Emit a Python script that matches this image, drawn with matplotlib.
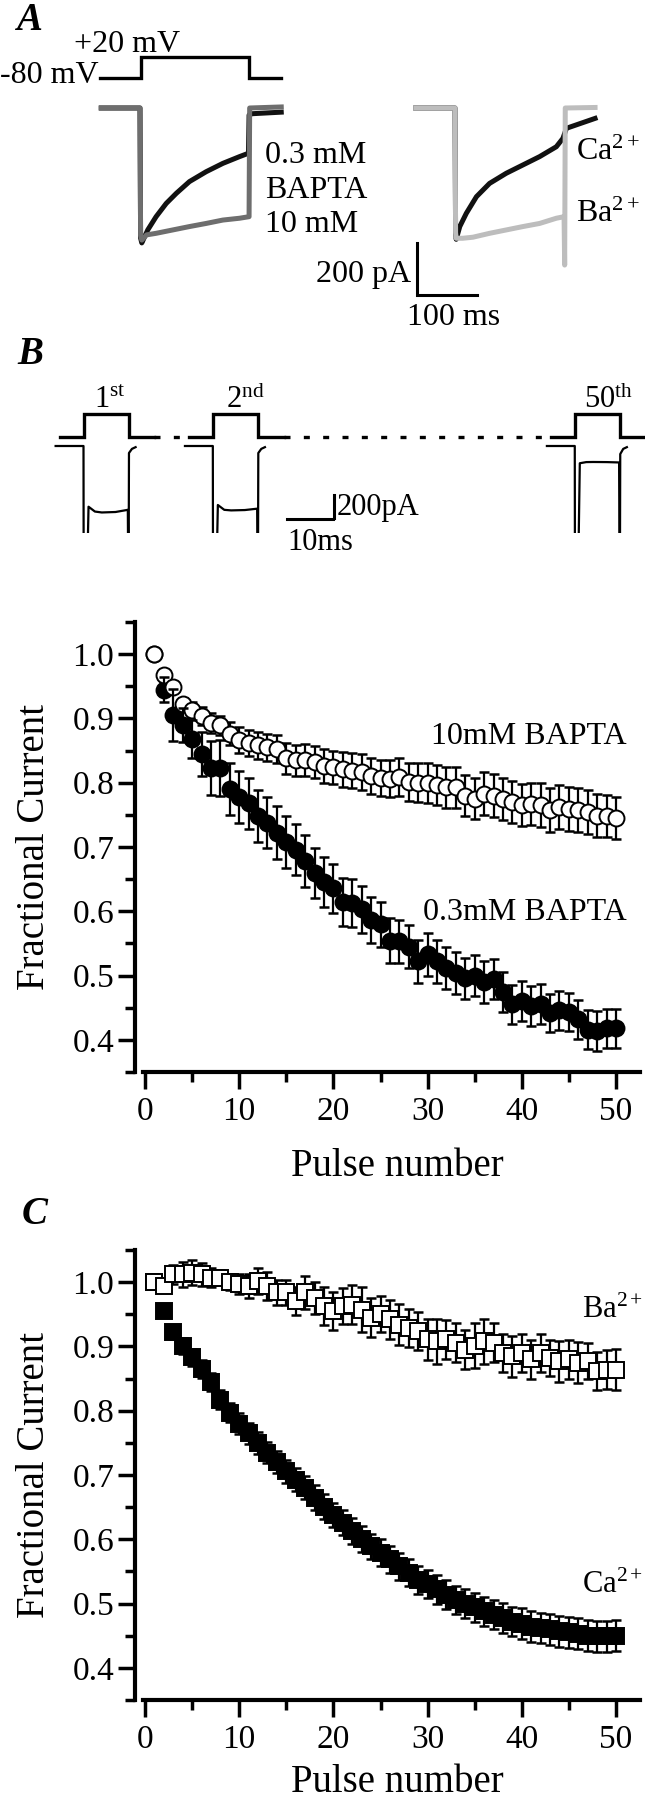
import numpy as np
import matplotlib
matplotlib.use('Agg')
import matplotlib.pyplot as plt
from matplotlib.ticker import FixedLocator, FormatStrFormatter

plt.rcParams['font.family'] = ['Liberation Serif', 'DejaVu Serif']
plt.rcParams['mathtext.fontset'] = 'custom'
plt.rcParams['mathtext.rm'] = 'Liberation Serif'
plt.rcParams['mathtext.it'] = 'Liberation Serif:italic'
plt.rcParams['mathtext.bf'] = 'Liberation Serif:bold'

# ---------------- data ----------------
# Panel A: voltage protocol (ms, mV)
stepA_t = [-67, 2, 2, 183, 183, 237]
stepA_v = [-80, -80, 20, 20, -80, -80]
# Panel A left: currents (ms, pA)
trace03_t = [-65, 0, 1, 3, 13, 27, 44, 61, 83, 111, 139, 167, 182, 183, 188, 237]
trace03_i = [0, 0, -500, -519, -469, -418, -367, -328, -283, -245, -213, -187, -174, -27, -22, -16]
trace10_t = [-65, 0, 1, 3, 11, 27, 55, 83, 111, 139, 167, 183, 184, 237]
trace10_i = [0, 0, -490, -508, -488, -482, -469, -456, -444, -431, -424, -418, 0, 4]
# Panel A right: Ca2+ / Ba2+ currents (ms, pA)
traceCa_t = [-66, 0, 1, 2, 8, 19, 36, 58, 86, 114, 142, 170, 181, 187, 235]
traceCa_i = [0, 0, -480, -505, -456, -405, -341, -290, -251, -219, -187, -149, -117, -78, -40]
traceBa_t = [-66, 0, 1, 2, 13, 30, 58, 86, 114, 142, 170, 183, 184, 185, 235]
traceBa_i = [0, 0, -480, -501, -501, -497, -482, -469, -456, -444, -424, -418, -604, 0, 2]
scalebarA_ms = 100
scalebarA_pA = 200

# Panel B sweeps (ms, mV / pA)
stepB_t = [-5.2, 0, 0, 9.9, 9.9, 15.5]
stepB_v = [-80, -80, 20, 20, -80, -80]
sweep_t = [-6.1, 0, 0.05, 0.6, 1.1, 2.5, 4.0, 7.0, 9.7, 9.85, 9.95, 10.6, 11.4]
sweep1_i = [0, 0, -1500, -1500, -528, -570, -578, -574, -555, -1500, -61, -25, -10]
sweep2_i = [0, 0, -1500, -1500, -513, -555, -560, -557, -545, -1500, -61, -25, -10]
sweep50_i = [0, 0, -1500, -1500, -150, -140, -139, -140, -143, -1500, -70, -25, -10]
sweep_labels = ['1$^{\\mathrm{st}}$', '2$^{\\mathrm{nd}}$', '50$^{\\mathrm{th}}$']
scalebarB_ms = 10
scalebarB_pA = 200

# Fractional current vs pulse number
pulse_n = list(range(1, 51))
bapta10_mean = [1.000, 0.967, 0.949, 0.922, 0.913, 0.904, 0.893, 0.889, 0.876, 0.866,
                0.862, 0.858, 0.855, 0.852, 0.838, 0.835, 0.835, 0.832, 0.826, 0.824,
                0.821, 0.819, 0.816, 0.811, 0.807, 0.806, 0.809, 0.801, 0.800, 0.800,
                0.796, 0.793, 0.793, 0.780, 0.775, 0.783, 0.780, 0.775, 0.770, 0.765,
                0.767, 0.765, 0.757, 0.762, 0.759, 0.757, 0.754, 0.749, 0.748, 0.745]
bapta10_sem = [0.000, 0.008, 0.006, 0.010, 0.012, 0.014, 0.015, 0.015, 0.018, 0.020,
               0.020, 0.021, 0.021, 0.022, 0.024, 0.024, 0.025, 0.025, 0.026, 0.026,
               0.027, 0.027, 0.028, 0.028, 0.028, 0.029, 0.030, 0.030, 0.030, 0.031,
               0.031, 0.032, 0.032, 0.032, 0.032, 0.033, 0.033, 0.033, 0.033, 0.033,
               0.033, 0.034, 0.034, 0.034, 0.034, 0.034, 0.034, 0.034, 0.033, 0.033]
bapta03_mean = [1.000, 0.945, 0.905, 0.890, 0.868, 0.845, 0.823, 0.823, 0.790, 0.778,
                0.768, 0.748, 0.738, 0.722, 0.708, 0.696, 0.678, 0.660, 0.645, 0.636,
                0.614, 0.613, 0.603, 0.586, 0.580, 0.554, 0.553, 0.545, 0.522, 0.533,
                0.522, 0.512, 0.504, 0.496, 0.500, 0.490, 0.495, 0.474, 0.455, 0.460,
                0.452, 0.456, 0.442, 0.446, 0.443, 0.432, 0.416, 0.414, 0.418, 0.418]
bapta03_sem = [0.000, 0.020, 0.040, 0.026, 0.030, 0.034, 0.042, 0.044, 0.040, 0.040,
               0.040, 0.040, 0.040, 0.041, 0.041, 0.040, 0.040, 0.039, 0.039, 0.038,
               0.037, 0.037, 0.036, 0.036, 0.035, 0.035, 0.034, 0.034, 0.034, 0.033,
               0.033, 0.033, 0.032, 0.032, 0.032, 0.032, 0.031, 0.031, 0.031, 0.031,
               0.031, 0.031, 0.030, 0.030, 0.030, 0.030, 0.031, 0.031, 0.030, 0.030]
ba_mean = [1.000, 0.994, 1.012, 1.012, 1.015, 1.012, 1.007, 1.007, 1.000, 0.997,
           0.994, 1.002, 0.994, 0.984, 0.984, 0.971, 0.984, 0.976, 0.963, 0.955,
           0.963, 0.965, 0.957, 0.945, 0.950, 0.942, 0.934, 0.929, 0.924, 0.911,
           0.908, 0.911, 0.906, 0.895, 0.901, 0.908, 0.906, 0.890, 0.885, 0.890,
           0.880, 0.890, 0.882, 0.877, 0.880, 0.875, 0.877, 0.862, 0.864, 0.864]
ba_sem = [0.000, 0.006, 0.015, 0.020, 0.020, 0.018, 0.015, 0.012, 0.012, 0.015,
          0.018, 0.020, 0.022, 0.020, 0.020, 0.022, 0.025, 0.025, 0.030, 0.030,
          0.028, 0.030, 0.035, 0.030, 0.028, 0.030, 0.032, 0.030, 0.030, 0.032,
          0.035, 0.030, 0.030, 0.030, 0.035, 0.035, 0.030, 0.030, 0.032, 0.030,
          0.030, 0.030, 0.028, 0.032, 0.030, 0.032, 0.028, 0.030, 0.030, 0.032]
ca_mean = [1.000, 0.955, 0.922, 0.901, 0.883, 0.865, 0.845, 0.817, 0.797, 0.780,
           0.765, 0.750, 0.735, 0.720, 0.706, 0.693, 0.680, 0.665, 0.651, 0.638,
           0.626, 0.613, 0.600, 0.589, 0.579, 0.569, 0.558, 0.548, 0.537, 0.530,
           0.522, 0.514, 0.506, 0.500, 0.494, 0.488, 0.483, 0.478, 0.472, 0.469,
           0.464, 0.462, 0.460, 0.457, 0.455, 0.453, 0.450, 0.449, 0.449, 0.450]
ca_sem = [0.000, 0.008, 0.010, 0.012, 0.013, 0.014, 0.014, 0.015, 0.015, 0.016,
          0.016, 0.017, 0.017, 0.017, 0.018, 0.018, 0.018, 0.019, 0.019, 0.019,
          0.020, 0.020, 0.020, 0.020, 0.021, 0.021, 0.021, 0.021, 0.022, 0.022,
          0.022, 0.022, 0.022, 0.023, 0.023, 0.023, 0.023, 0.023, 0.023, 0.024,
          0.024, 0.024, 0.024, 0.024, 0.024, 0.024, 0.024, 0.024, 0.024, 0.024]

x_major = [0, 10, 20, 30, 40, 50]
x_minor = [5, 15, 25, 35, 45]
y_major = [0.4, 0.5, 0.6, 0.7, 0.8, 0.9, 1.0]
y_minor = [0.35, 0.45, 0.55, 0.65, 0.75, 0.85, 0.95, 1.05]

# ---------------- layout helpers ----------------
W, H = 645, 1800
fig = plt.figure(figsize=(W / 100, H / 100), dpi=100)


def box(x0, y0, x1, y1):
    return [x0 / W, 1 - y1 / H, (x1 - x0) / W, (y1 - y0) / H]


def ftext(x, y, s, **kw):
    fig.text(x / W, 1 - y / H, s, **kw)


def scaled_axes(x0, y0, x1, y1, px0, py0, sx, sy, u0=0.0, v0=0.0):
    ax = fig.add_axes(box(x0, y0, x1, y1))
    ax.set_xlim(u0 + (x0 - px0) / sx, u0 + (x1 - px0) / sx)
    ax.set_ylim(v0 - (y1 - py0) / sy, v0 + (py0 - y0) / sy)
    ax.axis('off')
    return ax


# ---------------- Panel A ----------------
ftext(29, 20, 'A', weight='bold', style='italic', size=28, ha='center', va='center')
axAv = scaled_axes(85, 40, 300, 100, 140, 78, 0.596, 0.21, 0, -80)
axAv.plot(stepA_t, stepA_v, color='k', lw=2.4, solid_joinstyle='miter')
ftext(99, 83, '-80 mV', ha='right', va='baseline', size=23)
ftext(127, 52, '+20 mV', ha='center', va='baseline', size=23)

axAl = scaled_axes(85, 90, 320, 300, 140, 108, 0.596, 0.26)
axAl.plot(trace03_t, trace03_i, color='#111111', lw=3.6, solid_joinstyle='round')
axAl.plot(trace10_t, trace10_i, color='#6e6e6e', lw=3.6, solid_joinstyle='round')
ftext(265, 163, '0.3 mM', ha='left', va='baseline', size=23)
ftext(265, 198, 'BAPTA', ha='left', va='baseline', size=23)
ftext(265, 232, '10 mM', ha='left', va='baseline', size=23)

axAr = scaled_axes(400, 90, 645, 330, 455, 108, 0.596, 0.26)
axAr.plot(traceCa_t, traceCa_i, color='#111111', lw=3.6, solid_joinstyle='round')
axAr.plot(traceBa_t, traceBa_i, color='#bdbdbd', lw=3.6, solid_joinstyle='round')
bx, by = -63.8, -519
axAr.plot([bx, bx, bx + scalebarA_ms], [by, by - scalebarA_pA, by - scalebarA_pA],
          color='k', lw=2.2, solid_joinstyle='miter')
ftext(411, 282, '%d pA' % scalebarA_pA, ha='right', va='baseline', size=23)
ftext(454, 325, '%d ms' % scalebarA_ms, ha='center', va='baseline', size=23)
ftext(576, 160, 'Ca$^{2+}$', ha='left', va='baseline', size=23)
ftext(576, 222, 'Ba$^{2+}$', ha='left', va='baseline', size=23)

# ---------------- Panel B traces ----------------
ftext(30, 354, 'B', weight='bold', style='italic', size=28, ha='center', va='center')
sweep_offsets = [0.0, 28.3, 107.5]
label_x = [110, 245, 609]
axBv = scaled_axes(40, 395, 645, 450, 83.5, 437, 4.57, 0.23, 0, -80)
axBi = scaled_axes(40, 440, 645, 533, 83.5, 446, 4.57, 0.115)
for off, cur, lab, lx in zip(sweep_offsets, [sweep1_i, sweep2_i, sweep50_i], sweep_labels, label_x):
    axBv.plot(np.array(stepB_t) + off, stepB_v, color='k', lw=2.4, solid_joinstyle='miter')
    axBi.plot(np.array(sweep_t) + off, cur, color='k', lw=1.6)
    ftext(lx, 408, lab, ha='center', va='baseline', size=22)
for a, b in zip(sweep_offsets[:-1], sweep_offsets[1:]):
    axBv.plot([a + stepB_t[-1], b + stepB_t[0]], [stepB_v[-1], stepB_v[0]],
              color='k', lw=2.4, ls=(0, (1.8, 4)))
sbx, sby = 44.5, -635
axBi.plot([sbx, sbx + scalebarB_ms], [sby, sby], color='k', lw=2.2)
axBi.plot([sbx + scalebarB_ms + 0.4] * 2, [sby + 9, sby + 9 + scalebarB_pA], color='k', lw=2.2)
ftext(337, 507, '%dpA' % scalebarB_pA, ha='left', va='center', size=22)
ftext(287, 542, '%dms' % scalebarB_ms, ha='left', va='center', size=22)


# ---------------- fractional current panels ----------------
def frac_axes(ytop, ybot):
    ax = fig.add_axes(box(135, ytop, 640, ybot))
    x0px, sxp = 145, 9.42
    ax.set_xlim((135 - x0px) / sxp, (640 - x0px) / sxp)
    ax.set_ylim(0.35, 1.05)
    for s in ['top', 'right']:
        ax.spines[s].set_visible(False)
    for s in ['left', 'bottom']:
        ax.spines[s].set_linewidth(3.0)
    ax.spines['bottom'].set_bounds(-0.25, (640 - x0px) / sxp)
    ax.xaxis.set_major_locator(FixedLocator(x_major))
    ax.xaxis.set_minor_locator(FixedLocator(x_minor))
    ax.yaxis.set_major_locator(FixedLocator(y_major))
    ax.yaxis.set_minor_locator(FixedLocator(y_minor))
    ax.yaxis.set_major_formatter(FormatStrFormatter('%.1f'))
    ax.tick_params(which='major', direction='out', length=12, width=2.5, labelsize=24)
    ax.tick_params(which='minor', direction='out', length=7, width=2.5)
    ax.tick_params(axis='x', which='major', pad=6)
    ax.tick_params(axis='y', which='major', pad=3)
    ax.set_ylabel('Fractional Current', fontsize=28, va='center')
    ax.yaxis.set_label_coords((35 - 135) / 505, 0.5)
    ax.set_xlabel('Pulse number', fontsize=28, va='center')
    return ax


ebkw = dict(fmt='none', ecolor='k', elinewidth=1.6, capsize=3.5, capthick=1.8)


def errbars(ax, x, m, e, z):
    keep = [i for i, v in enumerate(e) if v > 0]
    ax.errorbar([x[i] for i in keep], [m[i] for i in keep], yerr=[e[i] for i in keep],
                zorder=z, **ebkw)


axB = frac_axes(622, 1072)
axB.plot(pulse_n, bapta03_mean, 'o', ms=11.5, mfc='k', mec='k', mew=1.4, zorder=3)
errbars(axB, pulse_n, bapta10_mean, bapta10_sem, 4)
axB.plot(pulse_n, bapta10_mean, 'o', ms=11.5, mfc='white', mec='k', mew=1.4, zorder=5)
errbars(axB, pulse_n, bapta03_mean, bapta03_sem, 6)
axB.xaxis.set_label_coords((397 - 135) / 505, -(1167 - 1072) / 450)
ftext(627, 744, '10mM BAPTA', ha='right', va='baseline', size=23)
ftext(627, 920, '0.3mM BAPTA', ha='right', va='baseline', size=23)

ftext(35, 1215, 'C', weight='bold', style='italic', size=28, ha='center', va='center')
axC = frac_axes(1250, 1700)
axC.plot(pulse_n, ca_mean, 's', ms=11, mfc='k', mec='k', mew=1.4, zorder=3)
errbars(axC, pulse_n, ba_mean, ba_sem, 4)
axC.plot(pulse_n, ba_mean, 's', ms=11, mfc='white', mec='k', mew=1.4, zorder=5)
errbars(axC, pulse_n, ca_mean, ca_sem, 6)
axC.xaxis.set_label_coords((397 - 135) / 505, -(1782 - 1700) / 450)
ftext(582, 1318, 'Ba$^{2+}$', ha='left', va='baseline', size=22)
ftext(582, 1593, 'Ca$^{2+}$', ha='left', va='baseline', size=22)

fig.savefig('out.png', dpi=100)
